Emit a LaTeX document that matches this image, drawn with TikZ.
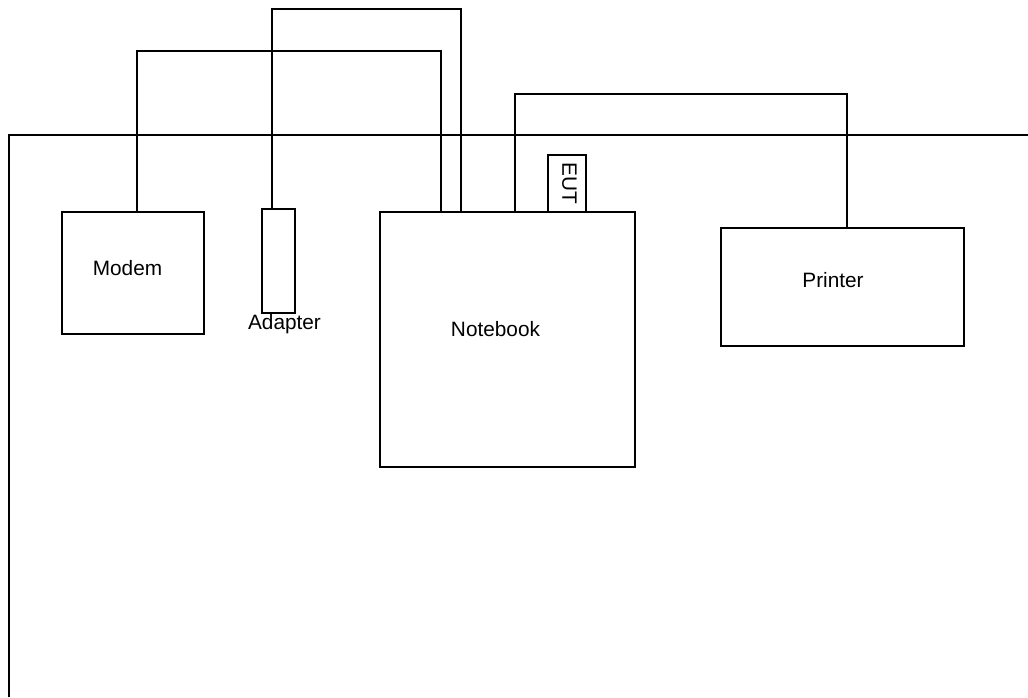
\documentclass[tikz,border=0pt]{standalone}
\usepackage{fontspec}
\setmainfont{Liberation Sans}
\usepackage{tikz}
\usetikzlibrary{positioning}

\begin{document}
\begin{tikzpicture}[x=1pt, y=-1pt, line width=1.6pt,
    font=\fontsize{20.8}{24}\selectfont,
    box/.style={draw, rectangle, inner sep=0pt}]
    \useasboundingbox (0,0) rectangle (1028,697);

    % table edge
    \draw (9,697) -- (9,135) -- (1028,135);

    \node[box, minimum width=142, minimum height=122, label={[xshift=-5.5pt, yshift=5pt]center:Modem}] (modem) at (133,273) {};
    \node[box, minimum width=33, minimum height=104, label={[inner sep=0pt, xshift=6pt]below:Adapter}] (adapter) at (278.5,261) {};
    \node[box, minimum width=255, minimum height=255, label={[xshift=-12pt, yshift=10.5pt]center:Notebook}] (nb) at (507.5,339.5) {};
    \node[box, minimum width=38, minimum height=57] (eut) at (567,183.5) {};
    \node[rotate=-90, inner sep=0pt] (euttext) at (569.5,183.5) {EUT};
    \node[box, minimum width=243, minimum height=118, label={[xshift=-9.5pt, yshift=7pt]center:Printer}] (printer) at (842.5,287) {};

    % cables
    \coordinate (nb-m) at (441,212);
    \coordinate (nb-a) at (461,212);
    \coordinate (nb-p) at (515,212);
    \coordinate (pr-in) at (847,228);

    \draw ([xshift=4pt]modem.north) -- ++(0,-160) -| (nb-m);
    \draw ([xshift=-6.5pt]adapter.north) -- ++(0,-199) -| (nb-a);
    \draw (nb-p) -- ++(0,-118) -| (pr-in);
\end{tikzpicture}
\end{document}
